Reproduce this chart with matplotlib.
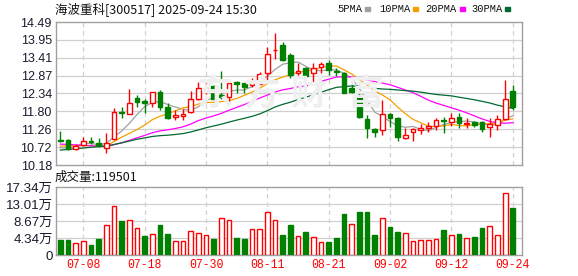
import matplotlib
matplotlib.use("Agg")
import matplotlib.pyplot as plt
import numpy as np
import pandas as pd

# ---------------- data ----------------
dates = ["07-03", "07-04", "07-07", "07-08", "07-09", "07-10", "07-11", "07-14", "07-15", "07-16",
         "07-17", "07-18", "07-21", "07-22", "07-23", "07-24", "07-25", "07-28", "07-29", "07-30",
         "07-31", "08-01", "08-04", "08-05", "08-06", "08-07", "08-08", "08-11", "08-12", "08-13",
         "08-14", "08-15", "08-18", "08-19", "08-20", "08-21", "08-22", "08-25", "08-26", "08-27",
         "08-28", "08-29", "09-01", "09-02", "09-03", "09-04", "09-05", "09-08", "09-09", "09-10",
         "09-11", "09-12", "09-15", "09-16", "09-17", "09-18", "09-19", "09-22", "09-23", "09-24"]

open_ = [10.93, 10.93, 10.66, 10.77, 10.90, 10.84, 10.68, 10.97, 11.78, 11.73,
         12.19, 12.11, 12.04, 12.38, 11.94, 11.62, 11.66, 11.78, 12.18, 12.49,
         12.56, 12.28, 12.22, 12.68, 12.64, 12.59, 12.62, 12.96, 13.64, 13.80,
         13.50, 12.94, 13.09, 12.94, 13.14, 13.24, 13.02, 12.94, 12.49, 12.29,
         11.57, 11.28, 11.23, 11.71, 11.59, 10.98, 11.18, 11.23, 11.29, 11.36,
         11.54, 11.49, 11.62, 11.43, 11.49, 11.47, 11.34, 11.39, 11.56, 12.41]
high = [11.20, 10.95, 10.80, 11.03, 11.01, 11.00, 11.13, 11.89, 11.94, 12.46,
        12.29, 12.16, 12.38, 12.44, 12.04, 11.83, 11.86, 12.42, 12.67, 12.69,
        12.58, 13.01, 12.71, 12.71, 12.66, 12.79, 12.99, 13.73, 14.15, 13.90,
        13.57, 13.24, 13.14, 13.24, 13.29, 13.34, 13.09, 12.99, 12.79, 12.36,
        11.69, 11.31, 12.14, 11.74, 11.64, 11.31, 11.31, 11.41, 11.49, 11.59,
        11.64, 11.74, 11.74, 11.59, 11.52, 11.51, 11.61, 11.69, 12.74, 12.58]
low = [10.88, 10.62, 10.64, 10.75, 10.81, 10.72, 10.55, 10.93, 11.61, 11.72,
       11.94, 11.76, 11.92, 11.84, 11.56, 11.55, 11.55, 11.76, 12.14, 12.32,
       12.16, 12.18, 12.04, 12.36, 12.34, 12.54, 12.61, 12.64, 13.36, 13.32,
       12.79, 12.84, 12.84, 12.69, 12.94, 12.89, 12.86, 12.34, 12.34, 11.59,
       10.98, 11.03, 11.08, 11.34, 10.91, 10.95, 10.91, 11.11, 11.18, 11.23,
       11.13, 11.36, 11.31, 11.31, 11.34, 11.18, 11.03, 11.23, 11.54, 11.84]
close = [10.91, 10.67, 10.76, 10.90, 10.88, 10.78, 10.83, 11.77, 11.76, 12.04,
         12.09, 12.04, 12.38, 11.92, 11.59, 11.70, 11.72, 12.18, 12.49, 12.51,
         12.18, 12.22, 12.64, 12.63, 12.54, 12.67, 12.91, 13.52, 13.65, 13.34,
         12.89, 13.02, 12.87, 13.11, 13.22, 13.04, 12.98, 12.36, 12.39, 11.64,
         11.31, 11.16, 11.72, 11.61, 11.01, 11.08, 11.28, 11.31, 11.37, 11.54,
         11.50, 11.59, 11.44, 11.46, 11.38, 11.26, 11.42, 11.56, 12.16, 11.94]
# closes of the 29 sessions before the window (needed for the moving averages)
prior_close = [10.10, 10.15, 10.20, 10.22, 10.25, 10.28, 10.30, 10.35, 10.38, 10.46,
               10.85, 11.05, 11.20, 11.15, 11.06, 10.90, 10.75, 10.62, 10.55, 10.57,
               10.60, 10.72, 10.85, 10.92, 10.92, 10.70, 10.55, 10.38, 10.95]
# volume in 万手
volume = [3.95, 3.95, 3.13, 3.62, 2.47, 4.20, 7.57, 12.50, 8.64, 9.05,
          6.90, 4.94, 5.35, 7.65, 5.43, 3.62, 3.62, 6.09, 5.60, 5.10,
          4.20, 9.55, 9.05, 4.44, 4.20, 6.58, 6.58, 11.03, 9.05, 5.18,
          7.65, 4.86, 5.93, 4.61, 3.37, 3.21, 4.44, 10.37, 7.82, 10.86,
          10.86, 5.18, 9.55, 7.16, 5.93, 5.60, 3.62, 3.87, 3.87, 4.12,
          6.42, 5.10, 5.43, 4.36, 4.69, 6.90, 7.32, 5.10, 15.72, 11.9501]

price_ticks = [10.18, 10.72, 11.26, 11.80, 12.34, 12.87, 13.41, 13.95, 14.49]
vol_ticks = [0, 4.34, 8.67, 13.01, 17.34]
ma_periods = [5, 10, 20, 30]
ma_labels = ["5PMA", "10PMA", "20PMA", "30PMA"]
ma_colors = ["#a0a0a0", "#f5a000", "#ff00ff", "#006a30"]
title = "海波重科[300517] 2025-09-24 15:30"
vol_title = "成交量:119501"

# ---------------- figure ----------------
W, H = 578, 276
fig = plt.figure(figsize=(W / 100, H / 100), dpi=100)

def ax_rect(l, t, r, b):
    return [l / W, 1 - b / H, (r - l) / W, (b - t) / H]

ax = fig.add_axes(ax_rect(56, 22, 522, 165))
axv = fig.add_axes(ax_rect(56, 187, 522, 255))

n = len(close)
x = np.arange(n)
RED = "#ff0000"
GREEN = "#008000"
FRAME = "#a0a0a0"
GRID = "#d0d0d0"

o = np.array(open_); c = np.array(close); h = np.array(high); l = np.array(low)
up = c >= o

# moving averages
full = pd.Series(prior_close + close)
for p, col in zip(ma_periods, ma_colors):
    ma = full.rolling(p).mean().to_numpy()[len(prior_close):]
    ax.plot(x, ma, color=col, lw=0.9, zorder=3)

# candles
bw = 0.62
ax.vlines(x, l, h, colors=[RED if u else GREEN for u in up], lw=1.0, zorder=4)
body_b = np.minimum(o, c)
body_h = np.maximum(np.abs(c - o), 0.012)
ax.bar(x[up], body_h[up], bottom=body_b[up], width=bw, facecolor="white",
       edgecolor=RED, linewidth=1.0, zorder=5)
ax.bar(x[~up], body_h[~up], bottom=body_b[~up], width=bw, facecolor=GREEN,
       edgecolor=GREEN, linewidth=1.0, zorder=5)

# volume bars (colour by close vs previous close)
prev = np.array([prior_close[-1]] + close[:-1])
vup = c > prev
v = np.array(volume)
axv.bar(x[vup], v[vup], width=bw, facecolor="white", edgecolor=RED, linewidth=1.0, zorder=3)
axv.bar(x[~vup], v[~vup], width=bw, facecolor=GREEN, edgecolor=GREEN, linewidth=1.0, zorder=3)

tick_idx = list(range(3, n, 8))
for a in (ax, axv):
    a.set_xlim(-0.56, 60.2)
    for s in a.spines.values():
        s.set_color(FRAME)
        s.set_linewidth(1.0)
    for t in tick_idx:
        a.axvline(t, color=GRID, lw=0.9, ls=(0, (3.5, 3)), zorder=1)
    a.tick_params(length=0)

ax.set_ylim(price_ticks[0], price_ticks[-1])
ax.set_yticks(price_ticks)
ax.set_yticklabels([f"{t:.2f}" for t in price_ticks], fontsize=9, color="#1a1a2e",
                   family="Liberation Sans")
ax.tick_params(axis="y", pad=3)
ax.set_xticks([])
for t in price_ticks[1:-1]:
    ax.axhline(t, color=GRID, lw=0.9, zorder=1)

axv.set_ylim(0, vol_ticks[-1])
axv.set_yticks(vol_ticks)
axv.set_yticklabels(["0"] + [f"{t:.2f}万" for t in vol_ticks[1:]], fontsize=9.6, color="#1a1a2e",
                    family=["Liberation Sans", "Noto Sans CJK SC"])
axv.tick_params(axis="y", pad=2)
for t in vol_ticks[1:-1]:
    axv.axhline(t, color=GRID, lw=0.9, zorder=1)
axv.set_xticks(tick_idx)
axv.set_xticklabels([dates[i] for i in tick_idx], fontsize=8.3, color=RED,
                    family="Liberation Mono")
axv.tick_params(axis="x", pad=3)

# watermark
for ch, xc in zip("东方财富", [215, 262, 308, 365]):
    fig.text(xc / W, 1 - 94 / H, ch, fontsize=26, color="#efefef", ha="center", va="center",
             family="Noto Sans CJK SC", fontweight="bold", zorder=0)

# title and legend
fig.text(55 / W, 1 - 9 / H, title, fontsize=9, color="#111111", ha="left", va="center",
         family=["Noto Sans CJK SC", "DejaVu Sans"])
leg_x = [337, 379, 425, 471]
mark_x = [365, 413, 460, 505]
for lab, col, lx, mx in zip(ma_labels, ma_colors, leg_x, mark_x):
    fig.text(lx / W, 1 - 9 / H, lab, fontsize=7.5, color="#111111", ha="left", va="center",
             family="Liberation Mono")
    fig.patches.append(plt.Rectangle((mx / W, 1 - 10.5 / H), 5 / W, 3 / H, color=col,
                                     transform=fig.transFigure, figure=fig))
fig.text(55 / W, 1 - 177 / H, vol_title, fontsize=9, color="#111111", ha="left", va="center",
         family=["Noto Sans CJK SC", "DejaVu Sans"])

fig.savefig("out.png", dpi=100)
